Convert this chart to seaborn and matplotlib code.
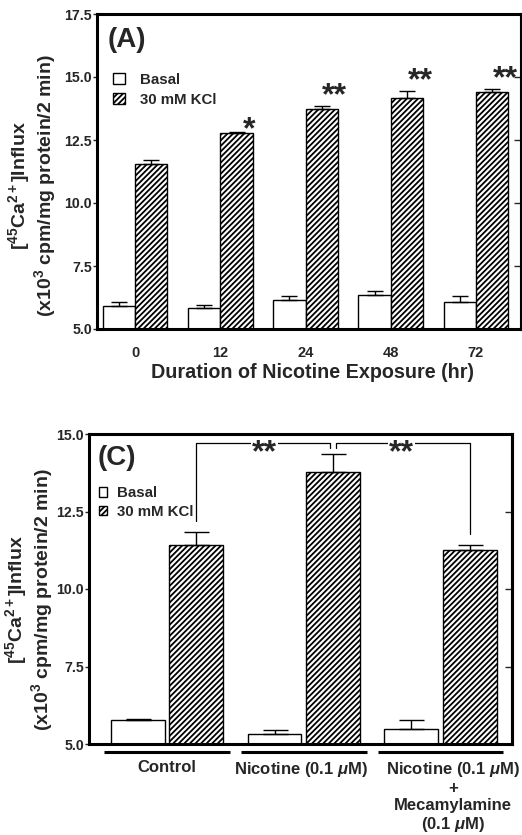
import numpy as np
import pandas as pd
import matplotlib
matplotlib.use("Agg")
import matplotlib.pyplot as plt
import matplotlib.transforms as mtransforms
import seaborn as sns

# ---------------- data ----------------
conditions = ["Basal", "30 mM KCl"]

# Panel A: duration of nicotine exposure
a_groups = ["0", "12", "24", "48", "72"]
a_basal = [5.91, 5.82, 6.15, 6.35, 6.06]
a_basal_err = [0.15, 0.13, 0.15, 0.17, 0.24]
a_kcl = [11.53, 12.77, 13.72, 14.15, 14.39]
a_kcl_err = [0.16, 0.03, 0.12, 0.31, 0.12]
a_stars = ["", "*", "**", "**", "**"]
a_star_y = [None, 13.05, 14.4, 15.0, 15.05]
a_yticks = [5.0, 7.5, 10.0, 12.5, 15.0, 17.5]

# Panel C: treatments
c_groups = ["Control", "Nicotine (0.1 $\\mu$M)",
            "Nicotine (0.1 $\\mu$M)\n+\nMecamylamine\n(0.1 $\\mu$M)"]
c_basal = [5.77, 5.32, 5.48]
c_basal_err = [0.03, 0.14, 0.29]
c_kcl = [11.42, 13.77, 11.27]
c_kcl_err = [0.42, 0.59, 0.14]
c_yticks = [5.0, 7.5, 10.0, 12.5, 15.0]
c_bracket_top = 14.71
c_bracket_ends = [12.18, 14.55, 11.76]   # bottom of left leg, middle notch, right leg
c_star_y = 14.5

ylabel = "[$^{45}$Ca$^{2+}$]Influx\n(x10$^3$ cpm/mg protein/2 min)"

# ---------------- style ----------------
sns.set_theme(style="white")
plt.rcParams["font.family"] = ["Liberation Sans", "DejaVu Sans"]
plt.rcParams["font.weight"] = "bold"
plt.rcParams["mathtext.fontset"] = "custom"
plt.rcParams["mathtext.rm"] = "Liberation Sans:bold"
plt.rcParams["mathtext.bf"] = "Liberation Sans:bold"
plt.rcParams["mathtext.it"] = "Liberation Sans:bold:italic"
plt.rcParams["hatch.linewidth"] = 1.3
plt.rcParams["hatch.color"] = "black"
plt.rcParams["axes.edgecolor"] = "black"

W, H = 522, 835
fig = plt.figure(figsize=(W / 100, H / 100), dpi=100)

STAR_DY = -8.5   # points: puts the asterisk glyph centre at the given y


def px_axes(l, r, t, b):
    return fig.add_axes([l / W, 1 - b / H, (r - l) / W, (b - t) / H])


def draw_panel(ax, groups, basal, basal_err, kcl, kcl_err, width, gap, capsize):
    df = pd.DataFrame({
        "group": groups * 2,
        "condition": [conditions[0]] * len(groups) + [conditions[1]] * len(groups),
        "value": basal + kcl,
    })
    sns.barplot(data=df, x="group", y="value", hue="condition", order=groups,
                hue_order=conditions, palette=["white", "white"], saturation=1,
                edgecolor="black", linewidth=1.0, width=width, gap=gap,
                errorbar=None, legend=False, ax=ax)
    for p in ax.containers[1]:
        p.set_hatch("//////")
    for cont, errs in zip(ax.containers, [basal_err, kcl_err]):
        xs = [p.get_x() + p.get_width() / 2 for p in cont]
        ys = [p.get_height() for p in cont]
        ax.errorbar(xs, ys, yerr=[np.zeros(len(errs)), errs], fmt="none",
                    ecolor="black", elinewidth=1.0, capsize=capsize,
                    capthick=1.0, zorder=1)
    for s in ax.spines.values():
        s.set_linewidth(2.2)
        s.set_color("black")
    ax.set_xlabel("")
    ax.tick_params(axis="x", length=0)
    ax.tick_params(axis="y", direction="out", length=3, width=1.0,
                   labelsize=10.2, pad=0.5, left=True, right=False)
    sec = ax.secondary_yaxis("right")
    sec.tick_params(direction="in", length=5, width=1.0, labelright=False)
    sec.spines["right"].set_linewidth(2.2)
    return sec


# ---------------- Panel A ----------------
axA = px_axes(97, 521, 14, 329)
secA = draw_panel(axA, a_groups, a_basal, a_basal_err, a_kcl, a_kcl_err,
                  0.762, 0, 5.8)
axA.set_ylim(5, 17.5)
axA.set_xlim(-0.446, 4.528)
axA.set_yticks(a_yticks, [f"{v:.1f}" for v in a_yticks])
secA.set_yticks(a_yticks)
axA.tick_params(axis="x", labelsize=10.5, pad=12)
for lab in axA.get_xticklabels() + axA.get_yticklabels():
    lab.set_fontweight("bold")
axA.set_xlabel("Duration of Nicotine Exposure (hr)", fontsize=14.2,
               fontweight="bold")
axA.xaxis.label.set_va("center")
axA.xaxis.set_label_coords(0.509, -0.137)
axA.set_ylabel(ylabel, fontsize=14, fontweight="bold", linespacing=1.0)
axA.yaxis.label.set_va("center")
axA.yaxis.set_label_coords(-0.153, 0.454)
axA.text(0.026, 0.919, "(A)", transform=axA.transAxes, fontsize=20,
         fontweight="bold", ha="left", va="center")
axA.legend(handles=[axA.containers[0][0], axA.containers[1][0]],
           labels=conditions, loc="upper left", bbox_to_anchor=(0.038, 0.812),
           frameon=False, borderpad=0, borderaxespad=0, handlelength=0.8,
           handleheight=0.75, handletextpad=1.0, labelspacing=0.4,
           prop={"size": 10.8, "weight": "bold"})
for p, s, y in zip(axA.containers[1], a_stars, a_star_y):
    if s:
        axA.annotate(s, xy=(p.get_x() + p.get_width() / 2, y),
                     xytext=(9.4, STAR_DY), textcoords="offset points",
                     ha="center", va="baseline", fontsize=23,
                     fontweight="bold", annotation_clip=False)

# ---------------- Panel C ----------------
axC = px_axes(89, 512, 434, 744)
secC = draw_panel(axC, c_groups, c_basal, c_basal_err, c_kcl, c_kcl_err,
                  0.854, 0.077, 9)
axC.set_ylim(5, 15)
axC.set_xlim(-0.57, 2.523)
axC.set_yticks(c_yticks, [f"{v:.1f}" for v in c_yticks])
secC.set_yticks(c_yticks)
for lab in axC.get_yticklabels():
    lab.set_fontweight("bold")
axC.set_xticks(range(len(c_groups)), [""] * len(c_groups))
blend = mtransforms.blended_transform_factory(axC.transData, axC.transAxes)
label_dx = [0, -2, 9]
for i, (g, dx) in enumerate(zip(c_groups, label_dx)):
    axC.plot([i - 0.46, i + 0.46], [-0.026, -0.026], transform=blend,
             color="black", lw=2.2, clip_on=False, solid_capstyle="butt")
    axC.annotate(g, xy=(i, -0.052), xycoords=blend, xytext=(dx, 0),
                 textcoords="offset points", ha="center", va="top",
                 fontsize=12, fontweight="bold", linespacing=1.15,
                 multialignment="center", annotation_clip=False)
axC.set_ylabel(ylabel, fontsize=14, fontweight="bold", linespacing=1.0)
axC.yaxis.label.set_va("center")
axC.yaxis.set_label_coords(-0.142, 0.465)
axC.text(0.021, 0.924, "(C)", transform=axC.transAxes, fontsize=20,
         fontweight="bold", ha="left", va="center")
axC.legend(handles=[axC.containers[0][0], axC.containers[1][0]],
           labels=conditions, loc="upper left", bbox_to_anchor=(0.024, 0.832),
           frameon=False, borderpad=0, borderaxespad=0, handlelength=0.55,
           handleheight=0.6, handletextpad=0.65, labelspacing=0.3,
           prop={"size": 10.8, "weight": "bold"})

# significance brackets between KCl bars
kx = [p.get_x() + p.get_width() / 2 for p in axC.containers[1]]
axC.plot([kx[0], kx[0], kx[1] - 0.02, kx[1] - 0.02],
         [c_bracket_ends[0], c_bracket_top, c_bracket_top, c_bracket_ends[1]],
         color="black", lw=0.9, zorder=2)
axC.plot([kx[1] + 0.02, kx[1] + 0.02, kx[2], kx[2]],
         [c_bracket_ends[1], c_bracket_top, c_bracket_top, c_bracket_ends[2]],
         color="black", lw=0.9, zorder=2)
for a, b in [(kx[0], kx[1]), (kx[1], kx[2])]:
    axC.annotate("**", xy=((a + b) / 2, c_star_y), xytext=(0, STAR_DY),
                 textcoords="offset points", ha="center", va="baseline",
                 fontsize=23, fontweight="bold", zorder=3,
                 bbox=dict(facecolor="white", edgecolor="none", pad=1.0))

fig.savefig("out.png", dpi=100)
